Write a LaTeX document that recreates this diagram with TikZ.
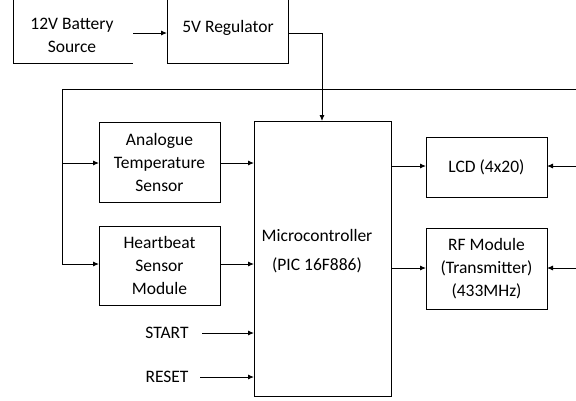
\documentclass[tikz,border=0pt]{standalone}
\usepackage{fontspec}
\setmainfont{Carlito}
\usetikzlibrary{arrows.meta}
\begin{document}
\begin{tikzpicture}[x=1pt,y=-1pt,
  line width=0.9pt,
  every node/.style={inner sep=0pt, outer sep=0pt},
  blk/.style={draw, font=\fontsize{17.5}{23}\selectfont, align=center},
  lbl/.style={font=\fontsize{17.5}{23}\selectfont, align=center},
  arr/.style={-{Latex[length=6pt,width=5pt]}}]
\useasboundingbox (0,0) rectangle (576,400);
% 12V battery (cropped box)
\draw (13,-2) -- (13,63) -- (133,63);
\node[lbl] (bat) at (72,35) {12V Battery\\Source};
\coordinate (batout) at (133,33);
% 5V regulator
\draw (167,-2) -- (167,63) -- (288,63) -- (288,-2);
\node[lbl] (reg) at (228,28) {5V Regulator};
\coordinate (regin) at (167,33);
\coordinate (regout) at (288,33);
\draw[arr] (batout) -- (regin);
% Micro
\node[blk, minimum width=137pt, minimum height=275pt] (mc) at (322.5,258.5) {};
\node[lbl] (mct) at (317,235) {Microcontroller};
\node[lbl] (mcp) at (317,265) {(PIC 16F886)};
\draw[arr] (regout) -| (mc.north -| 322,0);
% bus line
\coordinate (busL) at (62,89);
\coordinate (busR) at (578,89);
\draw (busR) -- (busL) -- (62,264);
% sensors
\node[blk, minimum width=121pt, minimum height=80pt] (ats) at (159.5,162) {Analogue\\Temperature\\Sensor};
\node[blk, minimum width=121pt, minimum height=79pt] (hbs) at (159.5,265.5) {Heartbeat\\Sensor\\Module};
\draw[arr] (62,163) -- (ats.west |- 0,163);
\draw[arr] (62,264) -- (hbs.west |- 0,264);
\draw[arr] (ats.east |- 0,163) -- (mc.west |- 0,163);
\draw[arr] (hbs.east |- 0,264) -- (mc.west |- 0,264);
% start reset
\node[lbl] (start) at (167,333) {START};
\node[lbl] (reset) at (167,377) {RESET};
\draw[arr] (202,333) -- (mc.west |- 0,333);
\draw[arr] (200,377) -- (mc.west |- 0,377);
% LCD & RF
\node[blk, minimum width=121pt, minimum height=60pt] (lcd) at (486.5,167) {LCD (4x20)};
\node[blk, minimum width=121pt, minimum height=81pt] (rf) at (486.5,268.5) {RF Module\\(Transmitter)\\(433MHz)};
\draw[arr] (mc.east |- 0,166) -- (lcd.west |- 0,166);
\draw[arr] (mc.east |- 0,268) -- (rf.west |- 0,268);
\coordinate (lcdr) at (578,166);
\coordinate (rfr) at (578,268);
\draw[arr] (lcdr) -- (lcd.east |- 0,166);
\draw[arr] (rfr) -- (rf.east |- 0,268);
\end{tikzpicture}
\end{document}
